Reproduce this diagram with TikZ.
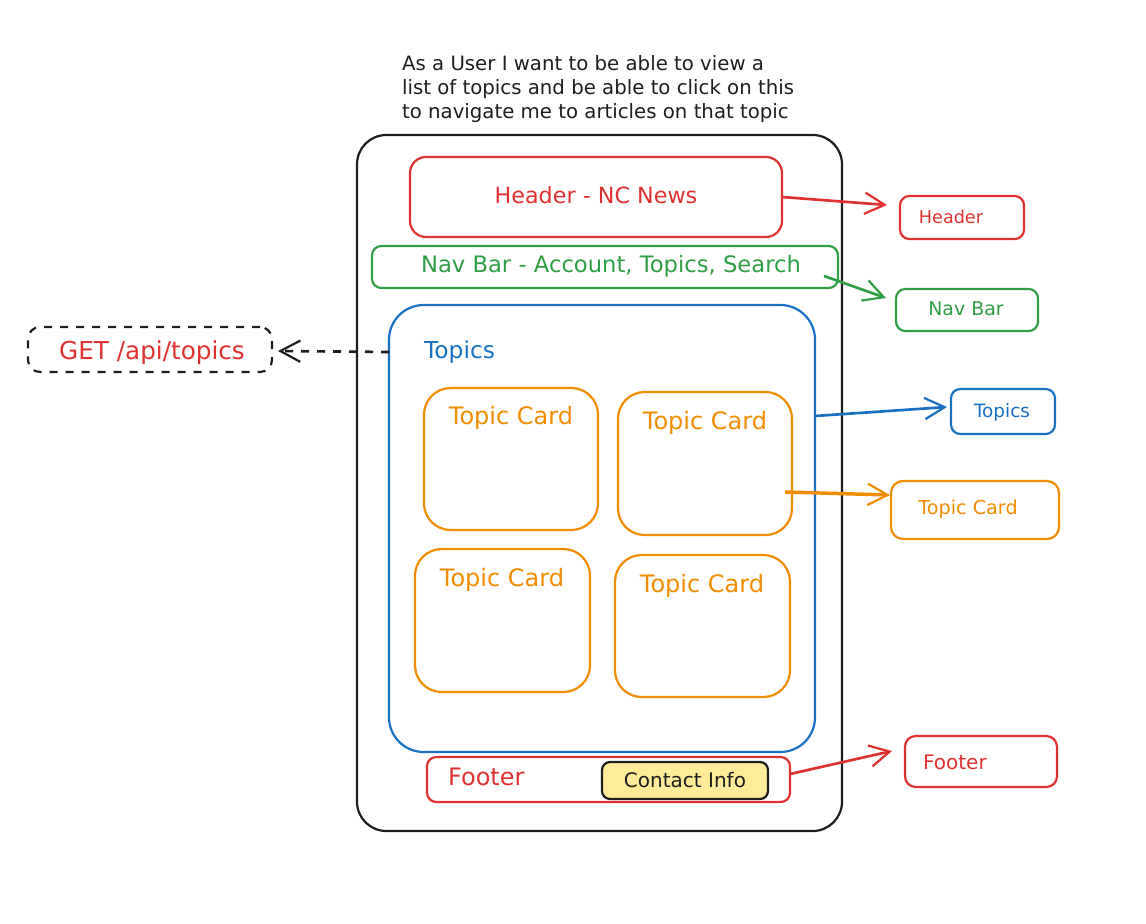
\documentclass[tikz,border=0pt]{standalone}
\usepackage{fontspec}
\setmainfont{DejaVu Sans}
\usetikzlibrary{arrows.meta,fit}
\definecolor{exred}{HTML}{E03131}
\definecolor{exgreen}{HTML}{2F9E44}
\definecolor{exblue}{HTML}{1971C2}
\definecolor{exorange}{HTML}{F08C00}
\definecolor{exyellow}{HTML}{FFEC99}
\definecolor{exblack}{HTML}{1E1E1E}
\begin{document}
\begin{tikzpicture}[x=0.75pt,y=-0.75pt,line width=1.65pt,
  box/.style={draw,inner sep=0pt,rounded corners=#1},
  box/.default=11pt,
  txt/.style={inner sep=0pt,font=\fontsize{#1}{#1}\selectfont},
  txt/.default=15.5,
  arr/.style={-{Straight Barb[length=15pt,width=16pt,line width=1.65pt]},line width=2pt},
  dashbox/.style={dash pattern=on 6pt off 6pt}
]
\useasboundingbox (0,0) rectangle (1146,924);

% description
\node[inner sep=0pt,align=left,anchor=north west,text=exblack,font=\fontsize{14.8}{18}\selectfont] (desc) at (401,54)
  {As a User I want to be able to view a\\list of topics and be able to click on this\\to navigate me to articles on that topic};

% outer frame
\node[box=22pt,exblack,fit={(357,135) (842,831)}] (frame) {};

% header
\node[box=12pt,exred,fit={(410,157) (782,237)}] (header) {};
\node[txt=16.7,text=exred] (headertxt) at (596,195) {Header - NC News};

% nav bar
\node[box=7pt,exgreen,fit={(372,246) (838,288)}] (nav) {};
\node[txt=17,text=exgreen] (navtxt) at (611,266) {Nav Bar - Account, Topics, Search};

% topics container
\node[box=26pt,exblue,fit={(389,305) (815,752)}] (topics) {};
\node[txt=17.5,text=exblue,anchor=west] (topicstxt) at (423,352) {Topics};

% topic cards
\node[box=20pt,exorange,fit={(424,388) (598,530)}] (tc1) {};
\node[txt=18,text=exorange] (tc1txt) at (511,418) {Topic Card};
\node[box=20pt,exorange,fit={(618,392) (792,535)}] (tc2) {};
\node[txt=18,text=exorange] (tc2txt) at (705,423) {Topic Card};
\node[box=20pt,exorange,fit={(415,549) (590,692)}] (tc3) {};
\node[txt=18,text=exorange] (tc3txt) at (502,580) {Topic Card};
\node[box=20pt,exorange,fit={(615,555) (790,697)}] (tc4) {};
\node[txt=18,text=exorange] (tc4txt) at (702,586) {Topic Card};

% footer
\node[box=7pt,exred,fit={(427,757) (790,802)}] (footer) {};
\node[txt=18,text=exred,anchor=west] (footertxt) at (447,777) {Footer};
\node[box=6pt,exblack,fill=exyellow,fit={(602,762) (768,799)}] (contact) {};
\node[txt=15,text=exblack] (contacttxt) at (685,780) {Contact Info};

% right labels
\node[box=7pt,exred,fit={(900,196) (1024,239)}] (lheader) {};
\node[txt=13.2,text=exred] (lheadertxt) at (951,217) {Header};
\node[box=7pt,exgreen,fit={(896,289) (1038,331)}] (lnav) {};
\node[txt=14.2,text=exgreen] (lnavtxt) at (966,309) {Nav Bar};
\node[box=7pt,exblue,fit={(951,389) (1055,434)}] (ltopics) {};
\node[txt=13.8,text=exblue] (ltopicstxt) at (1002,412) {Topics};
\node[box=9pt,exorange,fit={(891,481) (1059,539)}] (lcard) {};
\node[txt=14.4,text=exorange] (lcardtxt) at (968,509) {Topic Card};
\node[box=8pt,exred,fit={(905,736) (1057,787)}] (lfooter) {};
\node[txt=15,text=exred,anchor=west] (lfootertxt) at (922,762) {Footer};

% api box
\node[box=9pt,exblack,dashbox,fit={(28,327) (272,372)}] (api) {};
\node[txt=18.5,text=exred] (apitxt) at (152,353) {GET /api/topics};

% connectors
\coordinate (hs) at (782,197);
\coordinate (he) at (887,205);
\draw[arr,exred] (hs) -- (he);
\coordinate (ns) at (824,276);
\coordinate (ne) at (886,298);
\draw[arr,exgreen] (ns) -- (ne);
\coordinate (ts) at (815,416);
\coordinate (te) at (947,407);
\draw[arr,exblue] (ts) -- (te);
\coordinate (cs) at (785,492);
\coordinate (ce) at (890,495);
\draw[arr,exorange,line width=2.6pt] (cs) -- (ce);
\coordinate (fs) at (790,774);
\coordinate (fe) at (892,751);
\draw[arr,exred] (fs) -- (fe);
\coordinate (as) at (389,352);
\coordinate (ae) at (278,351);
\draw[arr,exblack,dashbox] (as) -- (ae);
\end{tikzpicture}
\end{document}
